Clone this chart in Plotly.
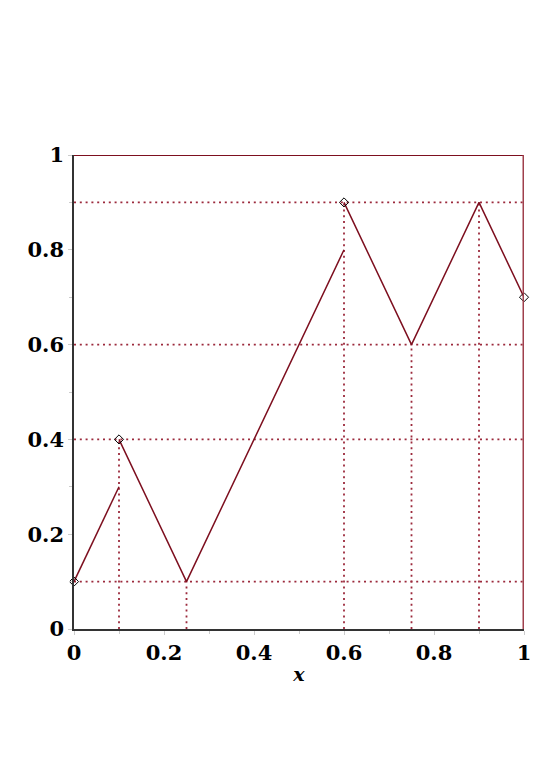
import plotly.graph_objects as go

# piecewise function with jumps (None breaks the line)
seg_x = [0, 0.1, None, 0.1, 0.25, 0.6, None, 0.6, 0.75, 0.9, 1]
seg_y = [0.1, 0.3, None, 0.4, 0.1, 0.8, None, 0.9, 0.6, 0.9, 0.7]

# marked points (diamonds)
pt_x = [0, 0.1, 0.6, 1]
pt_y = [0.1, 0.4, 0.9, 0.7]

# dotted guide lines
h_levels = [0.1, 0.4, 0.6, 0.9]
v_pos = [0.1, 0.25, 0.6, 0.75, 0.9]
v_tops = [0.4, 0.1, 0.9, 0.6, 0.9]

line_red = '#7d0f1f'
dot_red = '#9c2a3c'
edge_red = '#a0404d'

fig = go.Figure()

dot_style = dict(color=dot_red, width=1.8, dash='2px,3.8px')
for y in h_levels:
    fig.add_trace(go.Scatter(x=[0, 1], y=[y, y], mode='lines',
                             line=dot_style, hoverinfo='skip'))
for x, top in zip(v_pos, v_tops):
    fig.add_trace(go.Scatter(x=[x, x], y=[0, top], mode='lines',
                             line=dot_style, hoverinfo='skip'))

fig.add_trace(go.Scatter(x=seg_x, y=seg_y, mode='lines',
                         line=dict(color=line_red, width=1.5)))

# top edge and right edge (not clipped, so drawn as shapes in data coords)
fig.add_shape(type='line', xref='x', yref='y', x0=0, x1=1, y0=1, y1=1,
              line=dict(color=line_red, width=1.8), layer='above')
fig.add_shape(type='line', xref='x', yref='y', x0=1, x1=1, y0=0, y1=1,
              line=dict(color=edge_red, width=3), layer='above')

fig.add_trace(go.Scatter(x=pt_x, y=pt_y, mode='markers', cliponaxis=False,
                         marker=dict(symbol='diamond-open', size=7,
                                     color='black', line=dict(width=1))))

axis_common = dict(
    range=[0, 1],
    showgrid=False,
    zeroline=False,
    showline=True,
    linecolor='#333333',
    linewidth=1.5,
    ticks='outside',
    ticklen=4,
    tickcolor='#cccccc',
    tickvals=[0, 0.2, 0.4, 0.6, 0.8, 1],
    ticktext=['0', '0.2', '0.4', '0.6', '0.8', '1'],
    minor=dict(ticks='outside', ticklen=3, tickcolor='#cccccc',
               dtick=0.1, showgrid=False),
    tickfont=dict(family='DejaVu Serif', size=21, color='black', weight='bold'),
)

fig.update_layout(
    width=554,
    height=783,
    showlegend=False,
    plot_bgcolor='white',
    paper_bgcolor='white',
    margin=dict(l=66, r=38, t=147, b=162),
    xaxis=dict(**axis_common,
               title=dict(text='<b><i>x</i></b>', standoff=4,
                          font=dict(family='DejaVu Serif', size=19, color='black'))),
    yaxis=dict(**axis_common),
)

fig.write_html("out.html")
